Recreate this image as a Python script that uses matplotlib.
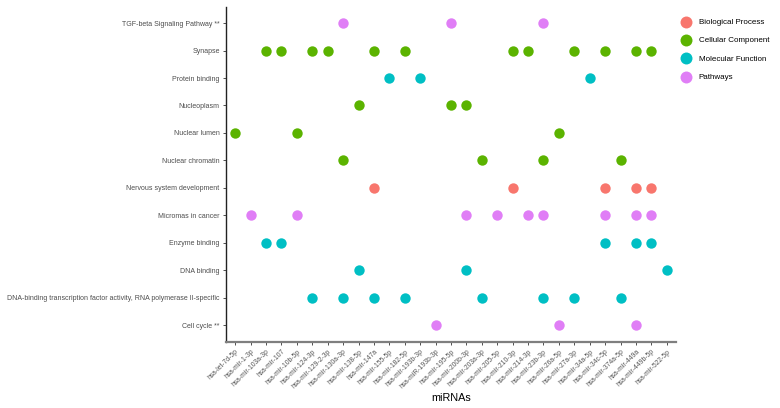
import matplotlib
matplotlib.use('Agg')
import matplotlib.pyplot as plt

plt.rcParams['font.family'] = ['Liberation Sans', 'DejaVu Sans']

# x categories (miRNAs)
mirnas = ['hsa-let-7d-5p', 'hsa-mir-1-3p', 'hsa-mir-103a-3p', 'hsa-mir-107', 'hsa-mir-10b-5p',
          'hsa-mir-124-3p', 'hsa-mir-129-2-3p', 'hsa-mir-130a-3p', 'hsa-mir-138-5p', 'hsa-mir-147a',
          'hsa-mir-155-5p', 'hsa-mir-182-5p', 'hsa-mir-193b-3p', 'hsa-miR-193b-3p', 'hsa-mir-195-5p',
          'hsa-mir-200b-3p', 'hsa-mir-203a-3p', 'hsa-mir-205-5p', 'hsa-mir-210-3p', 'hsa-mir-214-3p',
          'hsa-mir-23b-3p', 'hsa-mir-26a-5p', 'hsa-mir-27a-3p', 'hsa-mir-34a-5p', 'hsa-mir-34c-5p',
          'hsa-mir-374a-5p', 'hsa-mir-449a', 'hsa-mir-449b-5p', 'hsa-mir-522-5p']

# y categories, bottom to top
terms = ['Cell cycle **',
         'DNA-binding transcription factor activity, RNA polymerase II-specific',
         'DNA binding', 'Enzyme binding', 'Micromas in cancer', 'Nervous system development',
         'Nuclear chromatin', 'Nuclear lumen', 'Nucleoplasm', 'Protein binding', 'Synapse',
         'TGF-beta Signaling Pathway **']

# which group each term belongs to
term_group = {
    'TGF-beta Signaling Pathway **': 'Pathways',
    'Synapse': 'Cellular Component',
    'Protein binding': 'Molecular Function',
    'Nucleoplasm': 'Cellular Component',
    'Nuclear lumen': 'Cellular Component',
    'Nuclear chromatin': 'Cellular Component',
    'Nervous system development': 'Biological Process',
    'Micromas in cancer': 'Pathways',
    'Enzyme binding': 'Molecular Function',
    'DNA binding': 'Molecular Function',
    'DNA-binding transcription factor activity, RNA polymerase II-specific': 'Molecular Function',
    'Cell cycle **': 'Pathways',
}

# miRNAs hitting each term
term_mirnas = {
    'TGF-beta Signaling Pathway **': ['hsa-mir-130a-3p', 'hsa-mir-195-5p', 'hsa-mir-23b-3p'],
    'Synapse': ['hsa-mir-103a-3p', 'hsa-mir-107', 'hsa-mir-124-3p', 'hsa-mir-129-2-3p',
                'hsa-mir-147a', 'hsa-mir-182-5p', 'hsa-mir-210-3p', 'hsa-mir-214-3p',
                'hsa-mir-27a-3p', 'hsa-mir-34c-5p', 'hsa-mir-449a', 'hsa-mir-449b-5p'],
    'Protein binding': ['hsa-mir-155-5p', 'hsa-mir-193b-3p', 'hsa-mir-34a-5p'],
    'Nucleoplasm': ['hsa-mir-138-5p', 'hsa-mir-195-5p', 'hsa-mir-200b-3p'],
    'Nuclear lumen': ['hsa-let-7d-5p', 'hsa-mir-10b-5p', 'hsa-mir-26a-5p'],
    'Nuclear chromatin': ['hsa-mir-130a-3p', 'hsa-mir-203a-3p', 'hsa-mir-23b-3p', 'hsa-mir-374a-5p'],
    'Nervous system development': ['hsa-mir-147a', 'hsa-mir-210-3p', 'hsa-mir-34c-5p',
                                   'hsa-mir-449a', 'hsa-mir-449b-5p'],
    'Micromas in cancer': ['hsa-mir-1-3p', 'hsa-mir-10b-5p', 'hsa-mir-200b-3p', 'hsa-mir-205-5p',
                           'hsa-mir-214-3p', 'hsa-mir-23b-3p', 'hsa-mir-34c-5p', 'hsa-mir-449a',
                           'hsa-mir-449b-5p'],
    'Enzyme binding': ['hsa-mir-103a-3p', 'hsa-mir-107', 'hsa-mir-34c-5p', 'hsa-mir-449a',
                       'hsa-mir-449b-5p'],
    'DNA binding': ['hsa-mir-138-5p', 'hsa-mir-200b-3p', 'hsa-mir-522-5p'],
    'DNA-binding transcription factor activity, RNA polymerase II-specific':
        ['hsa-mir-124-3p', 'hsa-mir-130a-3p', 'hsa-mir-147a', 'hsa-mir-182-5p',
         'hsa-mir-203a-3p', 'hsa-mir-23b-3p', 'hsa-mir-27a-3p', 'hsa-mir-374a-5p'],
    'Cell cycle **': ['hsa-miR-193b-3p', 'hsa-mir-26a-5p', 'hsa-mir-449a'],
}

groups = ['Biological Process', 'Cellular Component', 'Molecular Function', 'Pathways']
colors = ['#F8766D', '#5BB300', '#00BFC4', '#E07EF6']

fig = plt.figure(figsize=(7.8, 4.08), dpi=100)
ax = fig.add_axes([0.2897, 0.162, 0.577, 0.822])

for g, c in zip(groups, colors):
    xs, ys = [], []
    for t in terms:
        if term_group[t] != g:
            continue
        for m in term_mirnas[t]:
            xs.append(mirnas.index(m))
            ys.append(terms.index(t))
    ax.scatter(xs, ys, s=56, color=c, label=g, linewidths=0, zorder=3)

ax.set_xlim(-0.6, len(mirnas) - 0.4)
ax.set_ylim(-0.6, len(terms) - 0.4)
ax.set_xticks(range(len(mirnas)))
ax.set_xticklabels(mirnas, rotation=45, ha='right', rotation_mode='anchor',
                   fontsize=4.9, color='#555555')
ax.set_yticks(range(len(terms)))
ax.set_yticklabels(terms, fontsize=5.0, color='#4D4D4D')
ax.tick_params(axis='both', length=2.5, width=0.6, color='#333333', pad=2)
ax.set_xlabel('miRNAs', fontsize=7.8, labelpad=2)

for s in ['top', 'right']:
    ax.spines[s].set_visible(False)
ax.spines['left'].set_color('#222222')
ax.spines['left'].set_linewidth(1.0)
ax.spines['bottom'].set_color('#7F7F7F')
ax.spines['bottom'].set_linewidth(1.6)

leg = fig.legend(loc='upper left', bbox_to_anchor=(0.865, 0.962), frameon=False,
                 fontsize=5.8, markerscale=1.15, handletextpad=0.6, labelspacing=1.3,
                 borderaxespad=0)

fig.savefig('out.png', dpi=100)
